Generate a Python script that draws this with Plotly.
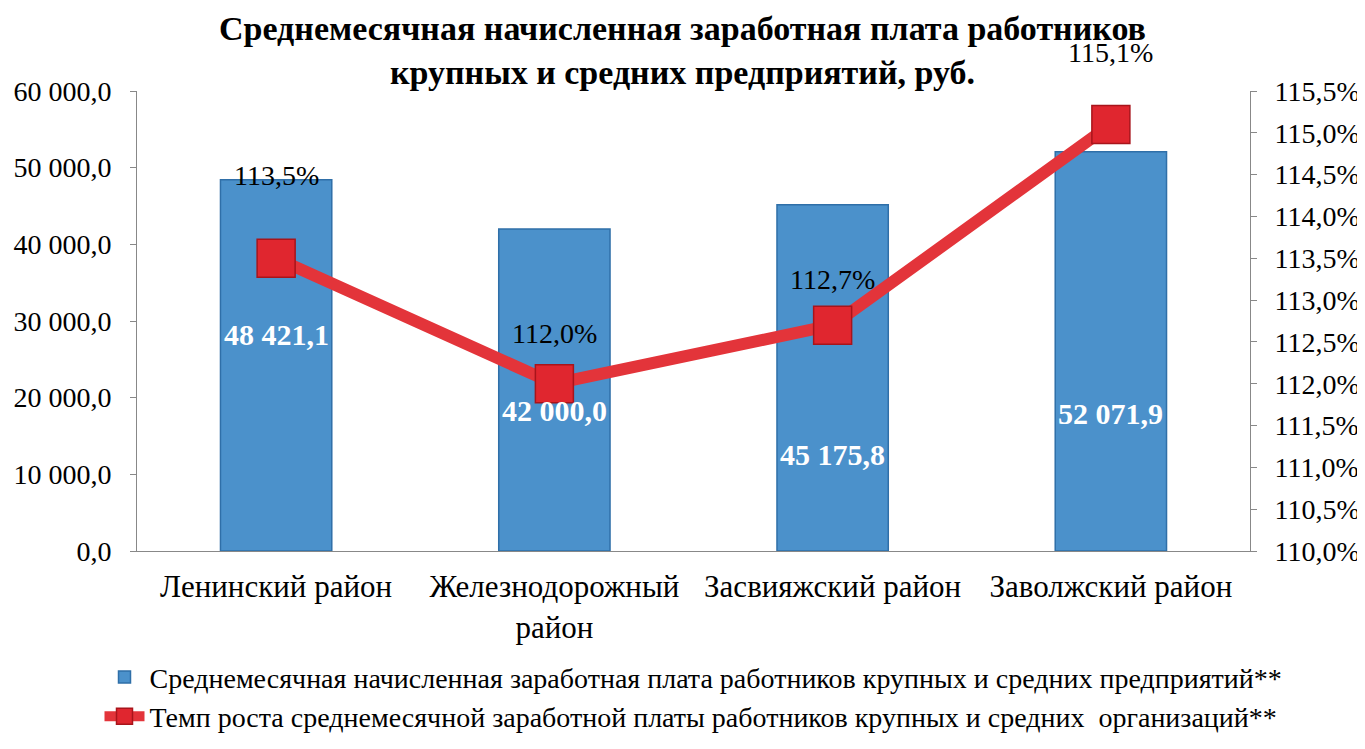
import plotly.graph_objects as go

categories = ["Ленинский район", "Железнодорожный<br>район", "Засвияжский район", "Заволжский район"]
salary = [48421.1, 42000.0, 45175.8, 52071.9]
growth = [113.5, 112.0, 112.7, 115.1]
bar_name = "Среднемесячная начисленная заработная плата работников крупных и средних предприятий**"
line_name = "Темп роста среднемесячной заработной платы работников крупных и средних  организаций**"
title_text = "<b>Среднемесячная начисленная заработная плата работников<br>крупных и средних предприятий, руб.</b>"

# label offsets (px) as they appear in the reference
bar_label_shift = [31, -20, -77, -62]
line_label_shift = [83, 50, 46, 72]

def fmt(v, d=1):
    s = f"{v:,.{d}f}"
    return s.replace(",", " ").replace(".", ",")

serif = "'Liberation Serif', 'DejaVu Serif', serif"

fig = go.Figure()
fig.add_trace(go.Bar(
    x=categories, y=salary, name=bar_name, width=0.4,
    marker=dict(color="#4b91cb", line=dict(color="#2f6fa8", width=1.5)),
    yaxis="y",
))
fig.add_trace(go.Scatter(
    x=categories, y=growth, name=line_name, mode="lines+markers",
    line=dict(color="#e3343a", width=12),
    marker=dict(symbol="square", size=38, color="#e0262f", line=dict(color="#a8141b", width=1.5)),
    yaxis="y2",
))

annotations = []
for c, v, s in zip(categories, salary, bar_label_shift):
    annotations.append(dict(x=c, y=v / 2, xref="x", yref="y", text=f"<b>{fmt(v)}</b>",
                            showarrow=False, yshift=s,
                            font=dict(family=serif, size=30, color="white")))
for c, v, s in zip(categories, growth, line_label_shift):
    annotations.append(dict(x=c, y=v, xref="x", yref="y2", text=fmt(v) + "%",
                            showarrow=False, yshift=s,
                            font=dict(family=serif, size=28, color="black")))
annotations.append(dict(x=0.49, y=1.089, xref="paper", yref="paper", text=title_text,
                        showarrow=False, xanchor="center", yanchor="middle",
                        font=dict(family=serif, size=34, color="black")))

fig.update_layout(
    width=1365, height=749,
    paper_bgcolor="white", plot_bgcolor="white",
    separators=", ",
    margin=dict(l=129, r=123, t=83, b=206, autoexpand=False),
    font=dict(family=serif, color="black"),
    xaxis=dict(showline=True, linecolor="#888", linewidth=1, ticks="", showgrid=False,
               ticklabelstandoff=8, automargin=False,
               tickfont=dict(family=serif, size=31, color="black")),
    yaxis=dict(range=[0, 60000], dtick=10000, tickformat=",.1f", showline=True, linecolor="#888",
               ticks="outside", ticklen=6, tickcolor="#888", showgrid=False,
               ticklabelstandoff=13, automargin=False,
               tickfont=dict(family=serif, size=28, color="black")),
    yaxis2=dict(range=[110, 115.5], dtick=0.5, tickformat=".1f", ticksuffix="%", overlaying="y",
                side="right", showline=True, linecolor="#888", ticks="outside", ticklen=6,
                tickcolor="#888", showgrid=False, ticklabelstandoff=12, automargin=False,
                tickfont=dict(family=serif, size=28, color="black")),
    legend=dict(orientation="v", x=0.5, xanchor="center", y=-0.22, yanchor="top",
                font=dict(family=serif, size=28, color="black"), tracegroupgap=26,
                itemwidth=40),
    showlegend=True,
    annotations=annotations,
)

fig.write_html("out.html")
